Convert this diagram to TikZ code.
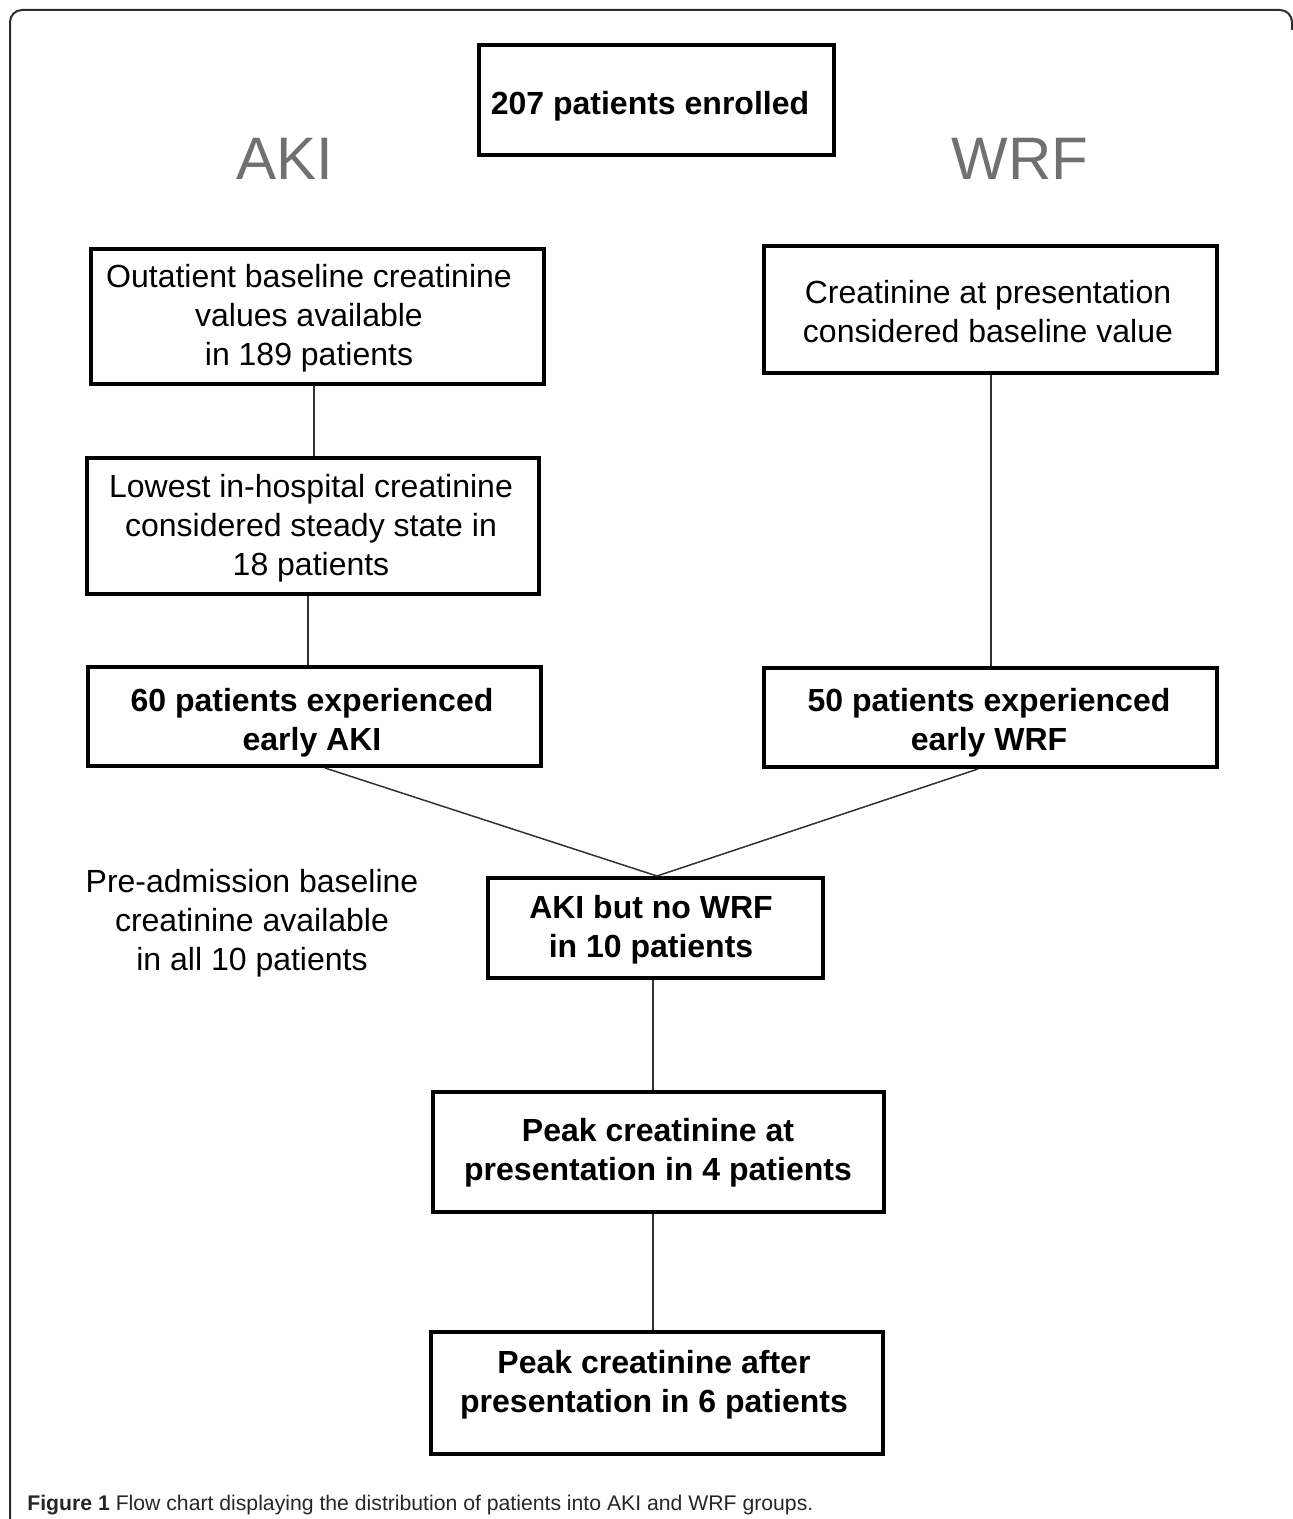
\documentclass[tikz,border=0pt]{standalone}
\usepackage{fontspec}
\setmainfont{Liberation Sans}
\definecolor{akigray}{RGB}{112,112,112}
\definecolor{framecol}{RGB}{45,45,45}
\definecolor{linecol}{RGB}{50,50,50}
\begin{document}
\begin{tikzpicture}[x=0.5pt,y=-0.5pt,
  box/.style 2 args={draw=black, line width=2pt, minimum width={#1*0.5pt}, minimum height={#2*0.5pt}, inner sep=0pt},
  txt/.style={align=center, inner sep=0pt, font=\fontsize{16}{19.5}\selectfont},
  btxt/.style={txt, font=\fontsize{16}{19.5}\selectfont\bfseries},
  group/.style={inner sep=0pt, text=akigray, font=\fontsize{30}{36}\selectfont},
  conn/.style={draw=linecol, line width=0.75pt},
  frame/.style={draw=framecol, line width=1pt, rounded corners=6pt}
]
\useasboundingbox (0,0) rectangle (1293,1519);
% outer frame
\coordinate (fbl) at (10,1519);
\coordinate (ftl) at (10,10);
\coordinate (ftr) at (1292,10);
\coordinate (fr) at (1292,30);
\draw[frame] (fbl) -- (ftl) -- (ftr) -- (fr);

% boxes
\node[box={355}{110}] (top) at (656,100.5) {};
\node[box={453}{135}] (a1) at (317.5,316.5) {};
\node[box={453}{127}] (w1) at (990.5,309.5) {};
\node[box={452}{136}] (a2) at (313,526) {};
\node[box={453}{99}] (a3) at (314.5,716.5) {};
\node[box={453}{99}] (w3) at (990.5,717.5) {};
\node[box={335}{100}] (c) at (655.5,928) {};
\node[box={451}{120}] (p1) at (658.5,1152) {};
\node[box={452}{122}] (p2) at (657,1393) {};

% texts
\node[btxt] (topt) at (650,106) {207 patients enrolled};
\node[group, anchor=base] (aki) at (285,180) {AKI};
\node[group, anchor=base] (wrf) at (1020,180) {WRF};
\node[txt] (a1t) at (309,318) {Outatient baseline creatinine\\values available\\in 189 patients};
\node[txt] (w1t) at (988,312) {Creatinine at presentation\\considered baseline value};
\node[txt] (a2t) at (311,528) {Lowest in-hospital creatinine\\considered steady state in\\18 patients};
\node[btxt] (a3t) at (312,723) {60 patients experienced\\early AKI};
\node[btxt] (w3t) at (989,723) {50 patients experienced\\early WRF};
\node[btxt] (ct) at (651,930) {AKI but no WRF\\in 10 patients};
\node[txt] (pre) at (252,923) {Pre-admission baseline\\creatinine available\\in all 10 patients};
\node[btxt] (p1t) at (658,1153) {Peak creatinine at\\presentation in 4 patients};
\node[btxt] (p2t) at (654,1385) {Peak creatinine after\\presentation in 6 patients};

% connector x positions
\coordinate (xa1) at (314,0);
\coordinate (xa2) at (308,0);
\coordinate (xw1) at (991,0);
\coordinate (xa3) at (325,0);
\coordinate (xw3) at (978,0);
\coordinate (xc) at (657,0);
\coordinate (xp) at (653,0);

\draw[conn] (a1.south -| xa1) -- (a2.north -| xa1);
\draw[conn] (a2.south -| xa2) -- (a3.north -| xa2);
\draw[conn] (w1.south -| xw1) -- (w3.north -| xw1);
\draw[conn] (a3.south -| xa3) -- (c.north -| xc);
\draw[conn] (w3.south -| xw3) -- (c.north -| xc);
\draw[conn] (c.south -| xp) -- (p1.north -| xp);
\draw[conn] (p1.south -| xp) -- (p2.north -| xp);

% caption
\node[anchor=base west, inner sep=0pt, text=black!85, font=\fontsize{10.6}{12}\selectfont] (cap) at (27,1510) {\textbf{Figure 1} Flow chart displaying the distribution of patients into AKI and WRF groups.};
\end{tikzpicture}
\end{document}
